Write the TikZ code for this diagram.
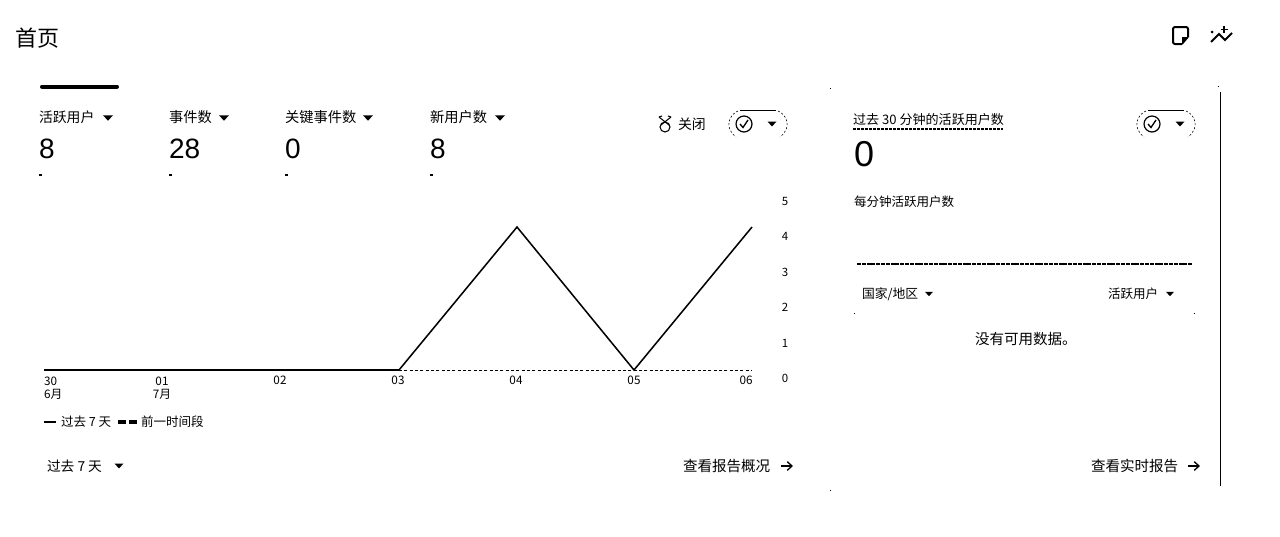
\documentclass[tikz,border=0pt]{standalone}
\usepackage{fontspec}
\setmainfont{Noto Sans CJK SC}
\newfontfamily\numfont{Liberation Sans}
\usetikzlibrary{arrows.meta}
\tikzset{
  x=0.75pt,y=-0.75pt,
  every node/.style={inner sep=0pt,outer sep=0pt,text=black},
  lab/.style={anchor=west,font=\fontsize{10.7}{12}\selectfont},
  linklab/.style={anchor=west,font=\fontsize{10.9}{12}\selectfont},
  big/.style={anchor=west,font=\numfont\fontsize{21}{23}\selectfont},
  small/.style={anchor=center,align=center,font=\fontsize{8.8}{10}\selectfont},
  minilab/.style={anchor=west,font=\fontsize{9.4}{11}\selectfont},
  tick/.style={anchor=center,font=\fontsize{8.6}{10}\selectfont},
  tri/.style={fill=black,draw=none},
  dotmark/.style={fill=black,draw=none},
  series/.style={draw=black,line width=1.15pt,line join=miter},
  prev/.style={draw=black,line width=0.75pt,dash pattern=on 2.2pt off 1.8pt},
  sep/.style={draw=black,line width=0.8pt,dash pattern=on 3pt off 0.6pt},
  pill/.style={draw=black,line width=0.45pt,dash pattern=on 1.5pt off 1.5pt},
  arrowlink/.style={draw=black,line width=1pt,-{Straight Barb[length=3.6pt,width=6.5pt]}}
}
\newcommand{\downtri}[3]{\fill[tri] (#1-#3,#2-#3*0.55) -- (#1+#3,#2-#3*0.55) -- (#1,#2+#3*0.55) -- cycle;}
\newcommand{\pillicon}[2]{%
  \draw[pill] (#1-19,#2-13) .. controls (#1-27,#2-10) and (#1-34,#2+3) .. (#1-21,#2+13);
  \draw[pill] (#1+21,#2-13) .. controls (#1+29,#2-10) and (#1+36,#2+3) .. (#1+23,#2+13);
  \draw[black,line width=0.6pt] (#1-17,#2-14) -- (#1+19,#2-14);
  \draw[black,line width=0.9pt] (#1-13,#2) circle[radius=8];
  \draw[black,line width=1pt] (#1-17,#2) -- (#1-14,#2+3.5) -- (#1-9,#2-4);
  \downtri{#1+15}{#2}{4.5}}
\begin{document}
\begin{tikzpicture}
\useasboundingbox (0,0) rectangle (1280,536);
\fill[white] (0,0) rectangle (1280,536);

\node[anchor=west,font=\fontsize{16.5}{18}\selectfont] (title) at (15,38) {首页};

% top-right icons
\draw[black,line width=1.5pt,rounded corners=1.5pt] (1182,44) -- (1173,44) -- (1173,27) -- (1188,27) -- (1188,37);
\draw[black,line width=1.2pt] (1188,37) -- (1182,44);
\fill[black] (1188,37) -- (1182,44) -- (1182,37) -- cycle;
\draw[black,line width=1.5pt] (1211,42) -- (1219,34) -- (1225,40) -- (1232,33);
\fill[black] (1212,32) circle[radius=1.5];
\draw[black,line width=0.8pt] (1224,26) -- (1224,33) (1220.5,29.5) -- (1227.5,29.5);

% active tab marker
\draw[black,line width=3pt,line cap=round] (42,86.5) -- (117,86.5);

% metric headers
\node[lab,font=\fontsize{10.4}{12}\selectfont] (m1) at (39,117) {活跃用户};
\downtri{108}{118}{5}
\node[lab] (m2) at (169,117) {事件数};
\downtri{224}{118}{5}
\node[lab] (m3) at (285,117) {关键事件数};
\downtri{368}{118}{5}
\node[lab] (m4) at (430,117) {新用户数};
\downtri{500}{118}{5}

\node[big] (v1) at (39,149) {8};
\node[big] (v2) at (169,149) {28};
\node[big] (v3) at (285,149) {0};
\node[big] (v4) at (430,149) {8};
\fill[dotmark] (39,174) rectangle +(3,2);
\fill[dotmark] (169,174) rectangle +(3,2);
\fill[dotmark] (285,174) rectangle +(3,2);
\fill[dotmark] (430,174) rectangle +(3,2);

% compare control
\draw[black,line width=0.8pt] (665,127) circle[radius=5];
\draw[black,line width=0.8pt] (659,117) -- (669,125) (671,117) -- (661,125);
\draw[black,line width=0.8pt] (659,117) -- (662,116) (671,117) -- (668,116);
\node[lab,font=\fontsize{10.4}{12}\selectfont] (close) at (678,124) {关闭};
\pillicon{757}{124}

% chart
\coordinate (p0) at (44,370);
\coordinate (p3) at (399,370);
\coordinate (p4) at (517,227);
\coordinate (p5) at (634,370);
\coordinate (p6) at (752,227);
\coordinate (p6b) at (752,370);
\draw[prev] (p3) -- (p6b);
\draw[series] (p0) -- (p3) -- (p4) -- (p5) -- (p6);

\node[tick] (y5) at (785,201) {5};
\node[tick] (y4) at (785,236.5) {4};
\node[tick] (y3) at (785,272) {3};
\node[tick] (y2) at (785,307.5) {2};
\node[tick] (y1) at (785,343) {1};
\node[tick] (y0) at (785,378.5) {0};

\node[small,anchor=north west,align=left] (x0) at (44,376.5) {30\\6月};
\node[small,anchor=north] (x1) at (162,376.5) {01\\7月};
\node[small,anchor=north] (x2) at (280,375.5) {02};
\node[small,anchor=north] (x3) at (398,375.5) {03};
\node[small,anchor=north] (x4) at (516,375.5) {04};
\node[small,anchor=north] (x5) at (634,375.5) {05};
\node[small,anchor=north] (x6) at (746,375.5) {06};

% legend
\coordinate (l1a) at (44,422);
\coordinate (l1b) at (56,422);
\draw[black,line width=1pt] (l1a) -- (l1b);
\node[minilab] (leg1) at (61,422) {过去 7 天};
\coordinate (l2a) at (118,422);
\coordinate (l2b) at (137,422);
\draw[black,line width=3pt,dash pattern=on 6pt off 2.3pt] (l2a) -- (l2b);
\node[minilab] (leg2) at (141,422) {前一时间段};

% footer left
\node[lab,font=\fontsize{10.3}{12}\selectfont] (range) at (47,466) {过去 7 天};
\downtri{119}{466}{4.5}
\node[linklab] (rep1) at (683,466) {查看报告概况};
\coordinate (a1s) at (781,466);
\coordinate (a1e) at (793,466);
\draw[arrowlink] (a1s) -- (a1e);

% right card
\node[lab,font=\fontsize{9.8}{12}\selectfont] (rt) at (853,120) {过去 30 分钟的活跃用户数};
\coordinate (ua) at (853,129);
\coordinate (ub) at (1003,129);
\draw[black,line width=0.8pt,dash pattern=on 2pt off 1pt] (ua) -- (ub);
\pillicon{1165}{124}
\node[anchor=west,font=\numfont\fontsize{27}{29}\selectfont] (rv) at (854,154) {0};
\node[minilab] (perm) at (854,202) {每分钟活跃用户数};
\coordinate (sa) at (857,264);
\coordinate (sb) at (1192,264);
\draw[sep] (sa) -- (sb);
\node[minilab,font=\fontsize{9.6}{11}\selectfont] (country) at (862,294) {国家/地区};
\downtri{929}{294}{4}
\node[minilab] (au) at (1108,294) {活跃用户};
\downtri{1170}{294}{4}
\fill[dotmark] (854,313) rectangle +(1,1);
\fill[dotmark] (1194,313) rectangle +(1,1);
\node[linklab] (nodata) at (975,339) {没有可用数据。};
\node[linklab] (rep2) at (1091,466) {查看实时报告};
\coordinate (a2s) at (1188,466);
\coordinate (a2e) at (1200,466);
\draw[arrowlink] (a2s) -- (a2e);

% edge marks
\coordinate (ra) at (1220.5,92);
\coordinate (rb) at (1220.5,486);
\draw[black,line width=0.9pt] (ra) -- (rb);
\fill[dotmark] (1218,86) rectangle +(1,1);
\fill[dotmark] (830,88) rectangle +(1,1);
\fill[dotmark] (830,490) rectangle +(1,1);
\end{tikzpicture}
\end{document}
